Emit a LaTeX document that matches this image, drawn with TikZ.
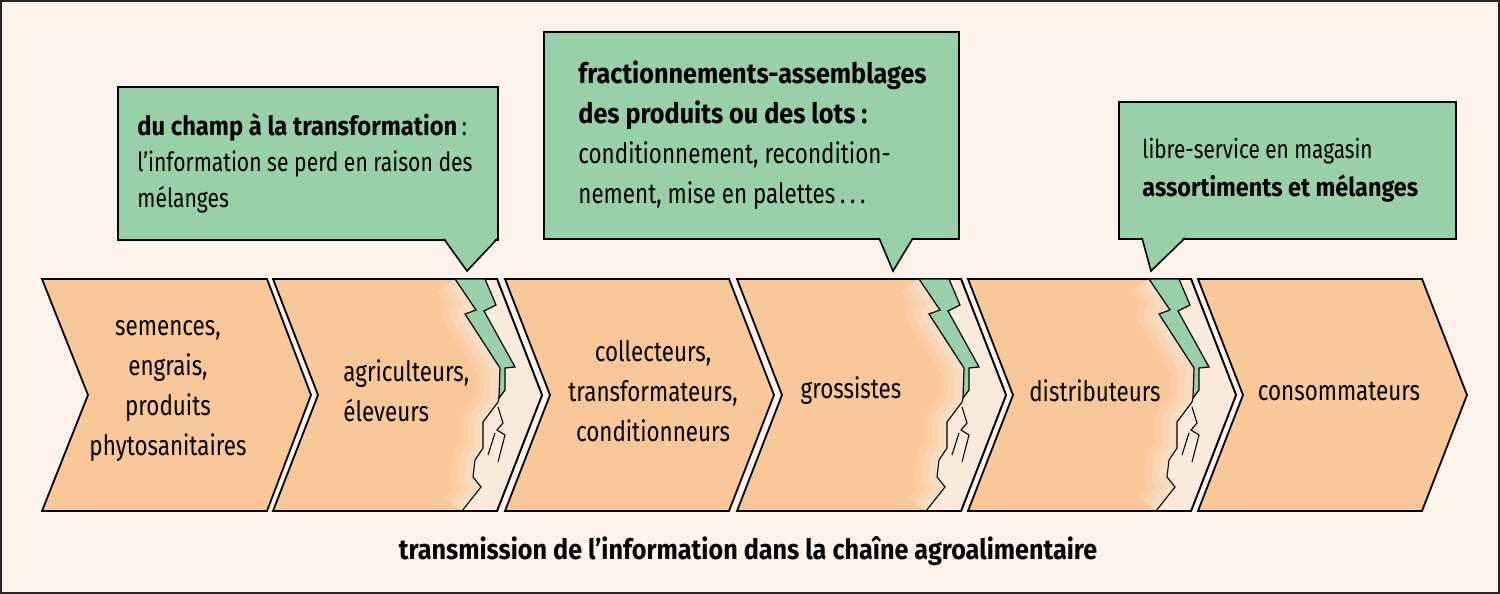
\documentclass[tikz,border=0pt]{standalone}
\usepackage{fontspec}
\setmainfont{Fira Sans}[FakeStretch=0.8, BoldFeatures={FakeStretch=0.9}]
\usetikzlibrary{calc}
\definecolor{chain_bg}{RGB}{253, 243, 234}
\definecolor{chain_orange}{RGB}{249, 199, 152}
\definecolor{chain_pale}{RGB}{252, 234, 218}
\definecolor{chain_green}{RGB}{152, 208, 168}
\tikzstyle{frame}=[fill=chain_bg,draw=black!85,line width=1pt]
\tikzstyle{chevron}=[fill=chain_orange,draw=black,line width=0.9pt,line join=miter]
\tikzstyle{callout}=[rectangle,fill=chain_green,draw=black,line width=0.8pt,
  anchor=north west,inner sep=0pt]
\tikzstyle{chevtext}=[inner sep=0pt,align=center,font=\fontsize{14}{20}\selectfont]
\tikzstyle{calltext}=[inner sep=0pt,anchor=west,align=left]
\tikzstyle{bolt}=[fill=chain_green,draw=black,line width=0.6pt,line join=miter]
\tikzstyle{crack}=[draw=black,line width=0.55pt]
\tikzstyle{none}=[]
\newcommand{\fissure}{%
  \begin{scope}
    \clip (-80, 0) rectangle (50, 232);
    \fill [chain_pale] (-12, 0) -- (-1, 26) -- (-13, 32) -- (18, 88) -- (8, 89)
      -- (8, 111) -- (2, 119) -- (1, 123) -- (-14, 143) -- (-14, 169) -- (-22, 181)
      -- (-24, 198) -- (-16, 208) -- (-35, 232) -- (0, 232) -- (45, 116) -- (0, 0) -- cycle;
    \draw [chain_pale, line width=22pt, opacity=0.2, line join=round]
      (-42, 0) -- (-21, 31) -- (-32, 35) -- (3, 89) -- (1, 123) -- (-14, 143)
      -- (-14, 169) -- (-22, 181) -- (-24, 198) -- (-16, 208) -- (-35, 232);
    \draw [chain_pale, line width=15pt, opacity=0.25, line join=round]
      (-42, 0) -- (-21, 31) -- (-32, 35) -- (3, 89) -- (1, 123) -- (-14, 143)
      -- (-14, 169) -- (-22, 181) -- (-24, 198) -- (-16, 208) -- (-35, 232);
    \draw [chain_pale, line width=8pt, opacity=0.35, line join=round]
      (-42, 0) -- (-21, 31) -- (-32, 35) -- (3, 89) -- (1, 123) -- (-14, 143)
      -- (-14, 169) -- (-22, 181) -- (-24, 198) -- (-16, 208) -- (-35, 232);
  \end{scope}
  \draw [style=chevron, fill=none] (-40, 232) -- (0, 232) -- (45, 116) -- (0, 0) -- (-12, 0);
  \draw [style=bolt] (-42, 0) -- (-21, 31) -- (-32, 35) -- (3, 89) -- (2, 119) -- (8, 111)
    -- (8, 89) -- (18, 88) -- (-13, 32) -- (-1, 26) -- (-12, 0) -- cycle;
  \draw [style=crack] (2, 119) -- (1, 123) -- (-14, 143) -- (-14, 169) -- (-22, 181)
    -- (-24, 198) -- (-16, 208) -- (-35, 232);
  \draw [style=crack] (1, 128) -- (6, 144) -- (0, 151) -- (8, 156) -- (1, 183);
  \draw [style=crack] (-2, 154) -- (-9, 176);
}

\begin{document}
\begin{tikzpicture}[x=0.5pt, y=-0.5pt]
    \useasboundingbox (0, 0) rectangle (1500, 594);
    \draw [style=frame] (1, 1) rectangle (1499, 593);
    % the chain
    \draw [style=chevron] (42, 279) -- (267, 279) -- (311, 395) -- (267, 511) -- (42, 511) -- (88, 395) -- cycle;
    \draw [style=chevron] (273, 279) -- (497, 279) -- (542, 395) -- (497, 511) -- (273, 511) -- (318, 395) -- cycle;
    \draw [style=chevron] (505, 279) -- (729, 279) -- (774, 395) -- (729, 511) -- (505, 511) -- (550, 395) -- cycle;
    \draw [style=chevron] (737, 279) -- (961, 279) -- (1006, 395) -- (961, 511) -- (737, 511) -- (782, 395) -- cycle;
    \draw [style=chevron] (968, 279) -- (1191, 279) -- (1236, 395) -- (1191, 511) -- (968, 511) -- (1013, 395) -- cycle;
    \draw [style=chevron] (1198, 279) -- (1422, 279) -- (1467, 395) -- (1422, 511) -- (1198, 511) -- (1243, 395) -- cycle;
    \begin{scope}[shift={(497, 279)}] \fissure \end{scope}
    \begin{scope}[shift={(961, 279)}] \fissure \end{scope}
    \begin{scope}[shift={(1191, 279)}] \fissure \end{scope}
    \node [style=chevtext] (0) at (168, 391) {semences,\\engrais,\\produits\\phytosanitaires};
    \node [style=chevtext, anchor=west, align=left] (1) at (343, 391) {agriculteurs,\\éleveurs};
    \node [style=chevtext] (2) at (653, 391) {collecteurs,\\transformateurs,\\conditionneurs};
    \node [style=chevtext] (3) at (851, 391) {grossistes};
    \node [style=chevtext] (4) at (1095, 391) {distributeurs};
    \node [style=chevtext] (5) at (1339, 391) {consommateurs};
    % callouts
    \node [style=callout, minimum width=190pt, minimum height=76.5pt] (10) at (117, 86) {};
    \fill [chain_green] (444, 237) -- (467, 271) -- (497, 237) -- cycle;
    \draw [line width=0.8pt] (444, 239) -- (467, 271) -- (497, 239);
    \node [style=calltext, xshift=10pt, font=\fontsize{13.2}{18}\selectfont] (11) at (10.west)
      {\textbf{du champ à la transformation}\,:\\l’information se perd en raison des\\mélanges};
    \node [style=callout, minimum width=207.5pt, minimum height=103.5pt] (12) at (543, 31) {};
    \fill [chain_green] (879, 236) -- (893, 271) -- (913, 236) -- cycle;
    \draw [line width=0.8pt] (879, 238) -- (893, 271) -- (913, 238);
    \node [style=calltext, xshift=17.5pt, font=\fontsize{14}{20}\selectfont] (13) at (12.west)
      {\textbf{fractionnements-assemblages}\\\textbf{des produits ou des lots :}\\conditionnement, recondition-\\nement, mise en palettes\,.\,.\,.};
    \node [style=callout, minimum width=168.5pt, minimum height=68.5pt] (14) at (1118, 101) {};
    \fill [chain_green] (1142, 236) -- (1151, 271) -- (1185, 236) -- cycle;
    \draw [line width=0.8pt] (1142, 238) -- (1151, 271) -- (1185, 238);
    \node [style=calltext, xshift=12pt, font=\fontsize{13}{19}\selectfont] (15) at (14.west)
      {libre-service en magasin\\\textbf{assortiments et mélanges}};
    % caption
    \node [style=chevtext, font=\fontsize{14}{20}\selectfont\bfseries] (20) at (748, 551)
      {transmission de l’information dans la chaîne agroalimentaire};
\end{tikzpicture}
\end{document}
